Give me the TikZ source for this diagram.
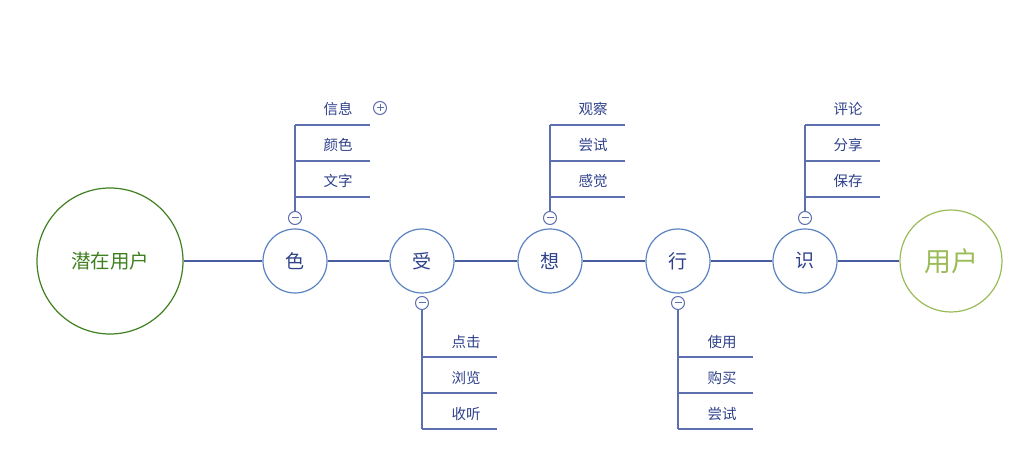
\documentclass[tikz,border=0pt]{standalone}
\usepackage{fontspec}
\setmainfont{Noto Sans CJK SC}
\definecolor{mainline}{HTML}{4A5CA0}
\definecolor{nodeblue}{HTML}{5A82C0}
\definecolor{txtblue}{HTML}{2F418A}
\definecolor{branch}{HTML}{5E6FB0}
\definecolor{dgreen}{HTML}{3F8020}
\definecolor{lgreen}{HTML}{9BBB59}
\begin{document}
\begin{tikzpicture}[x=1pt,y=-1pt,
  stage/.style={circle,draw=nodeblue,line width=1.2pt,minimum size=64pt,inner sep=0pt,text=txtblue,font=\fontsize{19}{19}\selectfont},
  tog/.style={circle,draw=branch,line width=1pt,minimum size=13pt,inner sep=0pt,fill=white},
  leaf/.style={text=txtblue,font=\fontsize{14.5}{14.5}\selectfont,inner sep=0pt},
  mline/.style={draw=mainline,line width=2.4pt},
  bline/.style={draw=branch,line width=1.3pt}]
\useasboundingbox (0,0) rectangle (1029,462);
\node[circle,draw=dgreen,line width=1.2pt,minimum size=146pt,inner sep=0pt,text=dgreen,font=\fontsize{19.5}{19.5}\selectfont] (src) at (110,261) {潜在用户};
\node[circle,draw=lgreen,line width=1.2pt,minimum size=102pt,inner sep=0pt,text=lgreen,font=\fontsize{27}{27}\selectfont] (dst) at (951,261) {用户};
\node[stage] (s1) at (295,261) {色};
\node[stage] (s2) at (422,261) {受};
\node[stage] (s3) at (550,261) {想};
\node[stage] (s4) at (678,261) {行};
\node[stage] (s5) at (805,261) {识};
\draw[mline] (src) -- (s1);
\draw[mline] (s1) -- (s2);
\draw[mline] (s2) -- (s3);
\draw[mline] (s3) -- (s4);
\draw[mline] (s4) -- (s5);
\draw[mline] (s5) -- (dst);
% toggles
\node[tog] (t1) at (295,218) {};
\node[tog] (t2) at (422,303) {};
\node[tog] (t3) at (550,218) {};
\node[tog] (t4) at (678,303) {};
\node[tog] (t5) at (805,218) {};
\foreach \t in {t1,t2,t3,t4,t5}{
  \draw[branch,line width=1pt] ([xshift=-3.5pt]\t.center) -- ([xshift=3.5pt]\t.center);
}
\node[tog] (p1) at (380,108) {};
\draw[branch,line width=1pt] ([xshift=-3.5pt]p1.center) -- ([xshift=3.5pt]p1.center);
\draw[branch,line width=1pt] ([yshift=-3.5pt]p1.center) -- ([yshift=3.5pt]p1.center);
% upper branches
\foreach \x/\n/\a/\b/\c in {295/t1/信息/颜色/文字, 550/t3/观察/尝试/感觉, 805/t5/评论/分享/保存}{
  \coordinate (top\n) at (\x,125);
  \draw[bline] (\n) -- (top\n);
  \draw[bline] (\x,125) -- (\x+75,125);
  \draw[bline] (\x,161) -- (\x+75,161);
  \draw[bline] (\x,197) -- (\x+75,197);
  \node[leaf] at (\x+43,109) {\a};
  \node[leaf] at (\x+43,145) {\b};
  \node[leaf] at (\x+43,181) {\c};
}
% lower branches
\foreach \x/\n/\a/\b/\c in {422/t2/点击/浏览/收听, 678/t4/使用/购买/尝试}{
  \coordinate (bot\n) at (\x,429);
  \draw[bline] (\n) -- (bot\n);
  \draw[bline] (\x,357) -- (\x+75,357);
  \draw[bline] (\x,393) -- (\x+75,393);
  \draw[bline] (\x,429) -- (\x+75,429);
  \node[leaf] at (\x+44,342) {\a};
  \node[leaf] at (\x+44,378) {\b};
  \node[leaf] at (\x+44,414) {\c};
}
\end{tikzpicture}
\end{document}
